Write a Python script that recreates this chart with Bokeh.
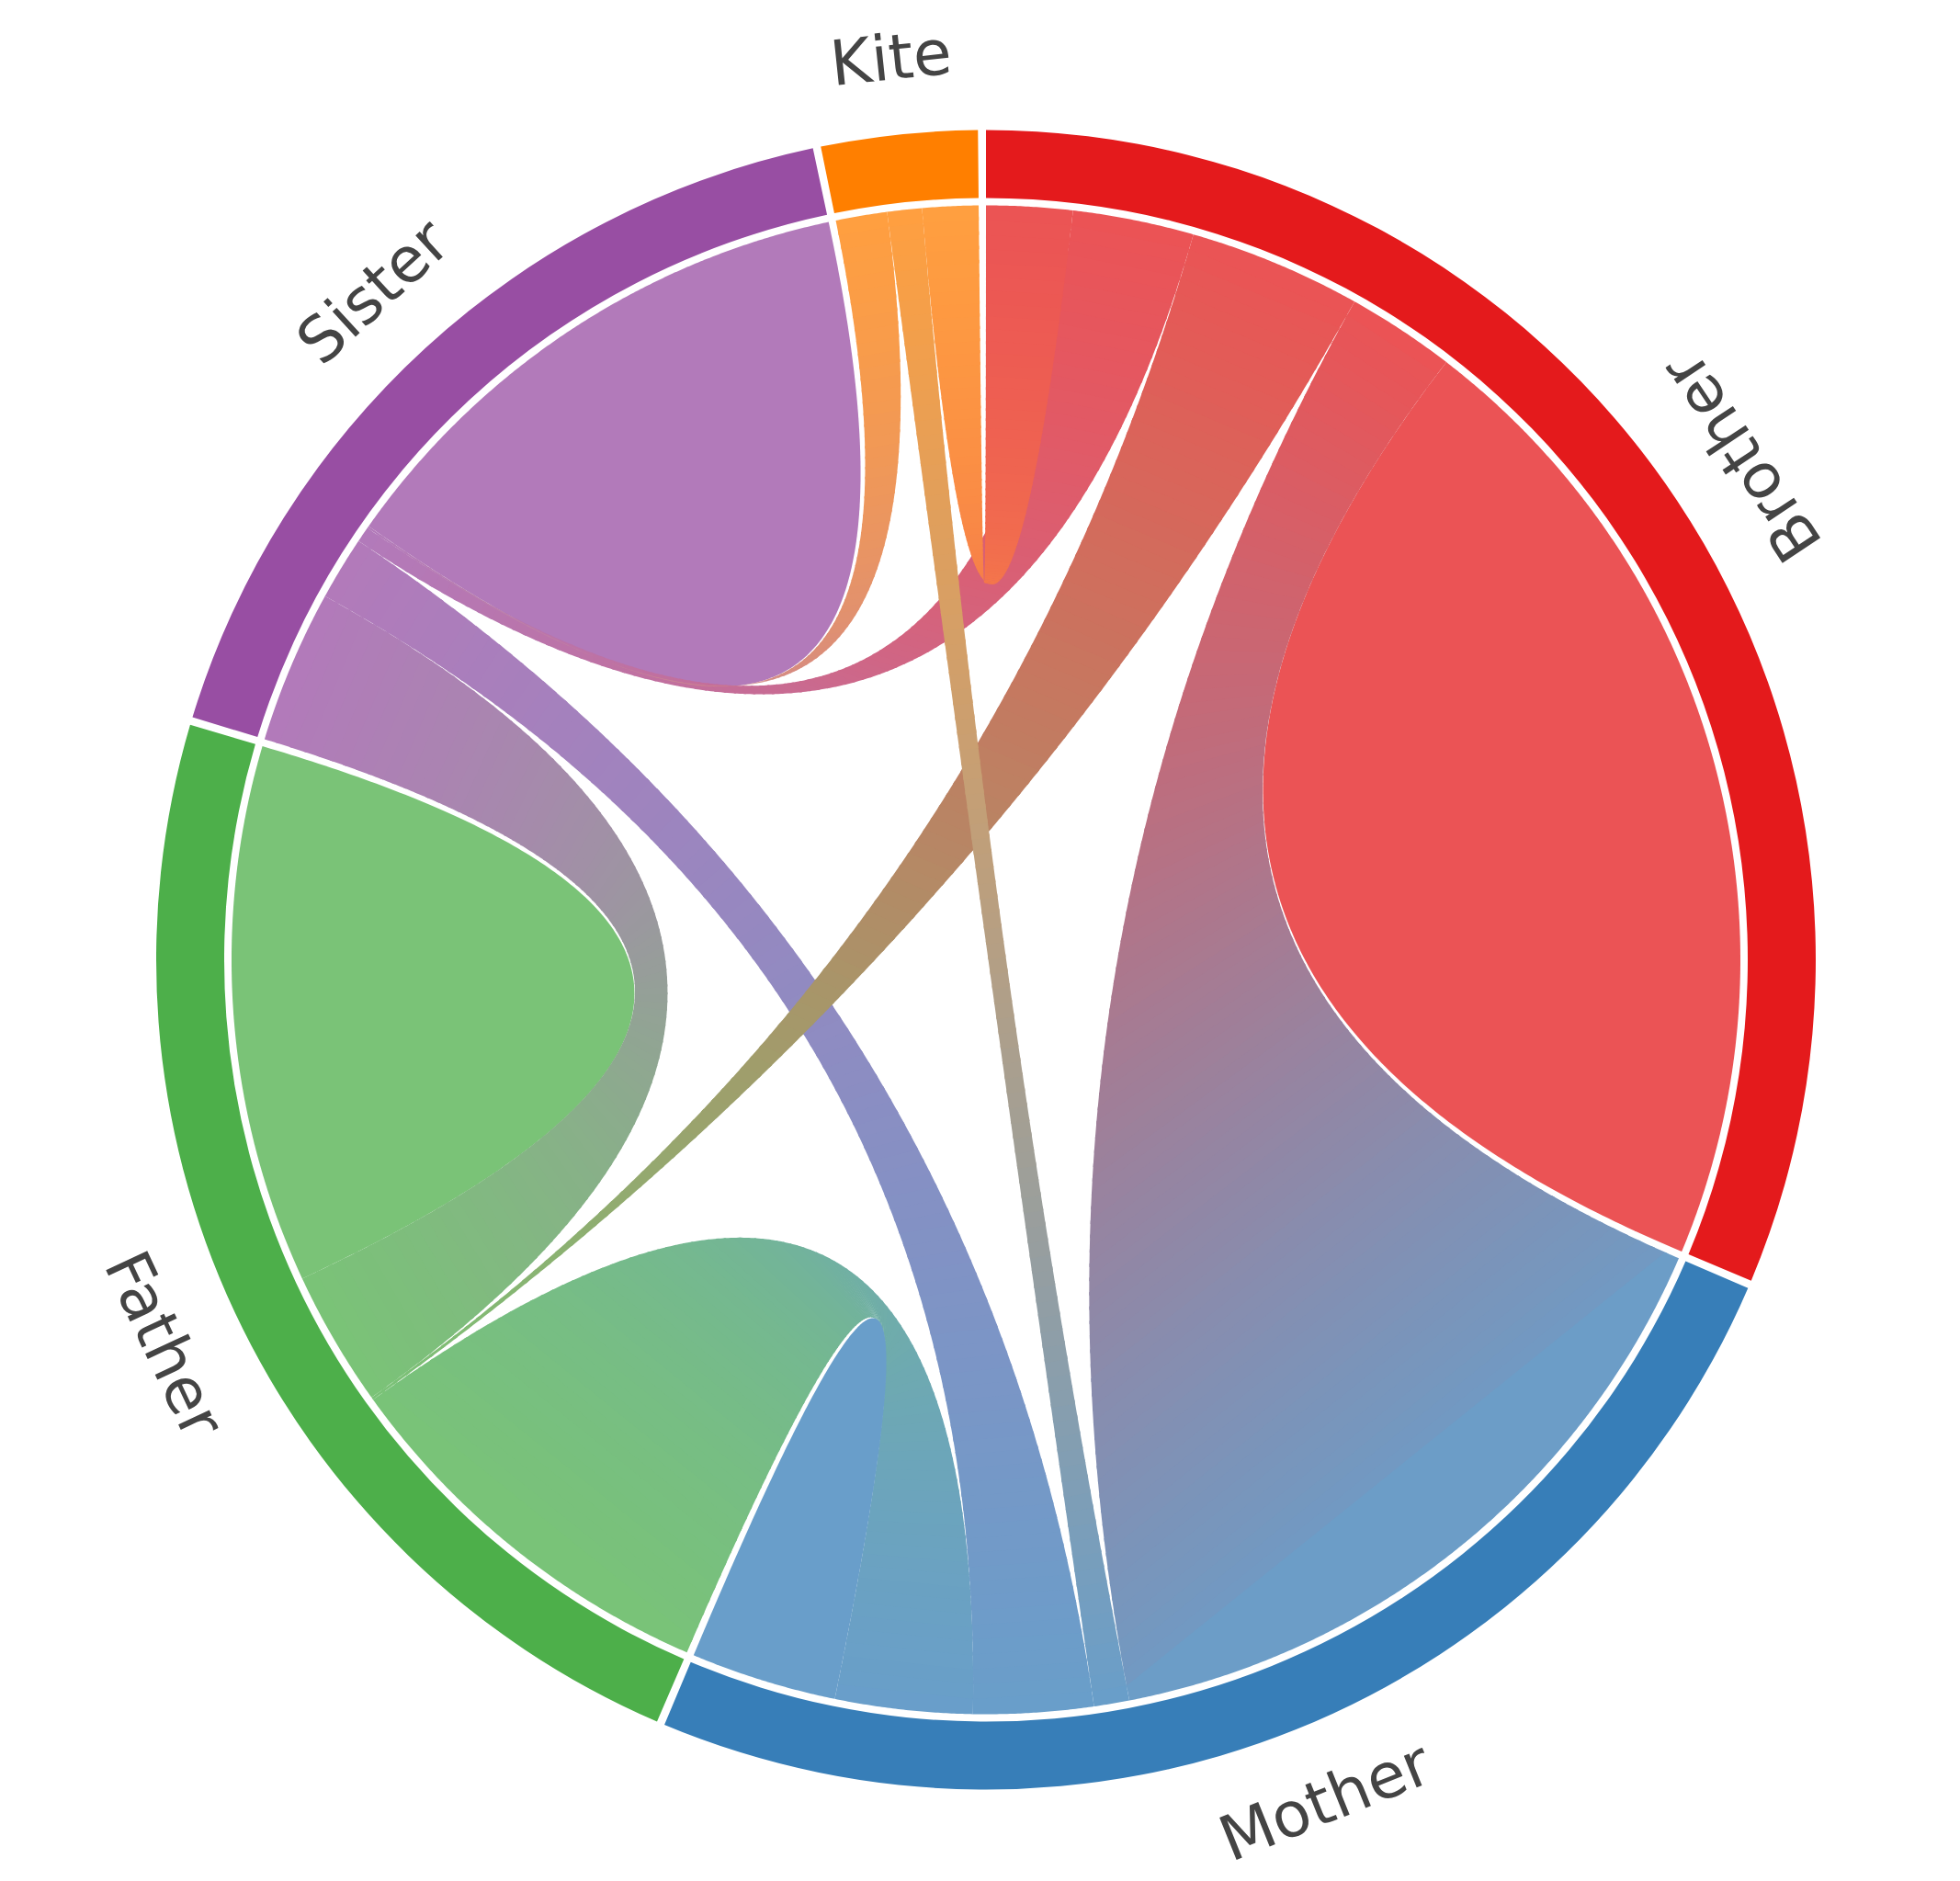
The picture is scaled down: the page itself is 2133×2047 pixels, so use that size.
import numpy as np
from bokeh.plotting import figure
from bokeh.models import Range1d
from bokeh.core.properties import value
from bokeh.embed import file_html
from bokeh.resources import INLINE

# ---------------- data ----------------
names = ["Brother", "Mother", "Father", "Sister", "Kite"]
colors = ["#e41a1c", "#377eb8", "#4daf4a", "#984ea3", "#ff7f00"]
# row = group, column = partner (Brother, Mother, Father, Sister, Kite)
brother = [75.14, 8.36, 13.29, 9.33, 6.63]
mother = [55.74, 11.24, 10.57, 9.23, 2.72]
father = [0.20, 30.98, 41.44, 10.47, 0.00]
sister = [1.20, 4.91, 11.81, 42.88, 0.16]
kite = [4.31, 2.67, 0.00, 3.95, 0.00]
matrix = [brother, mother, father, sister, kite]

# ---------------- geometry / style ----------------
W, H = 2133, 2047
CX, CY = 1072.5, H - 1044.0
R_OUT, R_IN, R_RIB, R_LAB = 903.0, 829.0, 821.0, 987.0
PAD = np.radians(0.555)
ALPHA = 0.75
NSTRIP = 100
# stacking order of the ribbons (pairs of group indices), bottom to top
Z_ORDER = [(0, 0), (0, 1), (3, 3), (2, 2), (1, 2), (2, 3), (1, 1),
           (0, 3), (1, 3), (0, 2), (0, 4), (1, 4), (3, 4)]

n = len(names)
M = np.array(matrix, dtype=float)
k = (2 * np.pi - n * PAD) / M.sum()

# chord layout (angles clockwise from 12 o'clock)
groups = []
sub = {}
pos = 0.0
for i in range(n):
    g0 = pos
    order = [(i - d) % n for d in range(1, n + 1)]
    for j in order:
        if M[i, j] > 0 or M[j, i] > 0:
            sub[(i, j)] = (pos, pos + M[i, j] * k)
            pos += M[i, j] * k
    groups.append((g0, pos))
    pos += PAD


def pt(theta, r):
    return CX + r * np.sin(theta), CY + r * np.cos(theta)


def arc(t0, t1, r):
    m = max(3, int(abs(t1 - t0) * r / 3) + 3)
    th = np.linspace(t0, t1, m)
    return list(CX + r * np.sin(th)), list(CY + r * np.cos(th))


def quad(p0, p2, ts):
    ts = np.asarray(ts)
    a = (1 - ts) ** 2
    b = 2 * ts * (1 - ts)
    c = ts ** 2
    return list(a * p0[0] + b * CX + c * p2[0]), list(a * p0[1] + b * CY + c * p2[1])


def rgb(h):
    h = h.lstrip("#")
    return np.array([int(h[q:q + 2], 16) for q in (0, 2, 4)], dtype=float)


def tohex(c):
    c = ALPHA * c + (1 - ALPHA) * 255.0
    return "#%02x%02x%02x" % tuple(int(round(v)) for v in np.clip(c, 0, 255))


ribbons = []
for i in range(n):
    for j in range(i, n):
        if (i, j) not in sub:
            continue
        if i == j and M[i, i] <= 0:
            continue
        ribbons.append((i, j))
ribbons.sort(key=lambda r: Z_ORDER.index(r) if r in Z_ORDER else len(Z_ORDER))

pxs, pys, pcols = [], [], []
for i, j in ribbons:
    a0, a1 = sub[(i, j)]
    if i == j:
        ax, ay = arc(a0, a1, R_RIB)
        qx, qy = quad(pt(a1, R_RIB), pt(a0, R_RIB), np.linspace(0, 1, 200))
        pxs.append(ax + qx[1:])
        pys.append(ay + qy[1:])
        pcols.append(tohex(rgb(colors[i])))
        continue
    b0, b1 = sub[(j, i)]
    P_a0, P_a1 = pt(a0, R_RIB), pt(a1, R_RIB)
    P_b0, P_b1 = pt(b0, R_RIB), pt(b1, R_RIB)
    ma = np.array(pt((a0 + a1) / 2, R_RIB))
    mb = np.array(pt((b0 + b1) / 2, R_RIB))
    axis = mb - ma
    L2 = float(axis @ axis)
    ca, cb = rgb(colors[i]), rgb(colors[j])
    edges = np.linspace(0, 1, NSTRIP + 1)
    eps = 0.25 / NSTRIP
    for s in range(NSTRIP):
        t0 = edges[s]
        t1 = min(1.0, edges[s + 1] + eps)
        ts = np.linspace(t0, t1, 5)
        c1x, c1y = quad(P_a1, P_b0, ts)
        c2x, c2y = quad(P_a0, P_b1, ts)
        xs, ys = [], []
        if s == 0:
            ax, ay = arc(a0, a1, R_RIB)
            xs += ax
            ys += ay
            xs += c1x[1:]
            ys += c1y[1:]
        else:
            xs += c1x
            ys += c1y
        if s == NSTRIP - 1:
            bx, by = arc(b0, b1, R_RIB)
            xs += bx[1:]
            ys += by[1:]
            xs += c2x[::-1][1:]
            ys += c2y[::-1][1:]
        else:
            xs += c2x[::-1]
            ys += c2y[::-1]
        cen = np.array([np.mean(xs), np.mean(ys)])
        tt = float(np.clip((cen - ma) @ axis / L2, 0, 1))
        pxs.append(xs)
        pys.append(ys)
        pcols.append(tohex(ca * (1 - tt) + cb * tt))

# ---------------- figure ----------------
p = figure(width=W, height=H, x_range=Range1d(0, W), y_range=Range1d(0, H),
           min_border=0, toolbar_location=None, output_backend="svg",
           x_axis_location=None, y_axis_location=None)
p.grid.visible = False
p.outline_line_color = None
p.background_fill_color = "white"
p.border_fill_color = "white"

p.patches(xs=pxs, ys=pys, fill_color=pcols, line_color=None)

starts = [np.pi / 2 - g[1] for g in groups]
ends = [np.pi / 2 - g[0] for g in groups]
p.annular_wedge(x=[CX] * n, y=[CY] * n, inner_radius=R_IN, outer_radius=R_OUT,
                start_angle=starts, end_angle=ends, direction="anticlock",
                fill_color=colors, line_color=None)

lx, ly, la = [], [], []
for (g0, g1) in groups:
    tm = (g0 + g1) / 2
    x, y = pt(tm, R_LAB)
    lx.append(x)
    ly.append(y)
    la.append(np.pi - tm if tm < 1.5 * np.pi else -tm)
p.text(x=lx, y=ly, text=names, angle=la, text_align="center", text_baseline="middle",
       text_font=value("DejaVu Sans"), text_font_size="68px", text_color="#444444")

open("out.html", "w").write(file_html(p, INLINE))
